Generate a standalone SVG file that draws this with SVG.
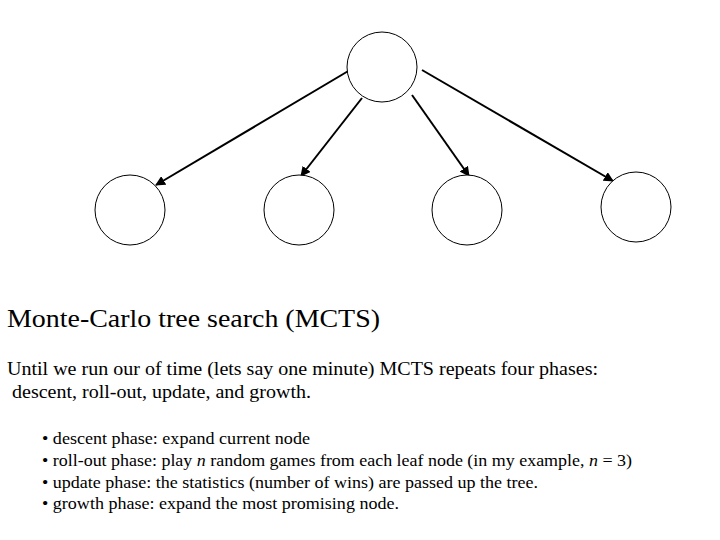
<svg xmlns="http://www.w3.org/2000/svg" width="720" height="540" viewBox="0 0 720 540">
<style>
.n{fill:#fff;stroke:#000;stroke-width:1}
.c{stroke:#000;stroke-width:2;fill:none;marker-end:url(#a)}
text{font-family:"Liberation Serif","Times New Roman","DejaVu Serif",serif;fill:#000}
.t{font-size:26px}.p{font-size:19px}.b{font-size:17px}
</style>
<defs><marker id="a" viewBox="0 0 10 10" refX="9" refY="5" markerWidth="5" markerHeight="5" orient="auto"><path d="M0,0L10,5L0,10z"/></marker></defs>
<rect width="720" height="540" fill="#fff"/>
<g id="connectors">
<line class="c" x1="350" y1="70" x2="156" y2="185"/>
<line class="c" x1="362" y1="98" x2="301" y2="176"/>
<line class="c" x1="412" y1="95" x2="469" y2="176"/>
<line class="c" x1="422" y1="70" x2="613" y2="181"/>
</g>
<g id="root"><ellipse class="n" cx="382" cy="67" rx="35" ry="35"/></g>
<g id="leaf1"><ellipse class="n" cx="130" cy="210" rx="35" ry="35"/></g>
<g id="leaf2"><ellipse class="n" cx="299" cy="210" rx="35" ry="35"/></g>
<g id="leaf3"><ellipse class="n" cx="467" cy="210" rx="35" ry="35"/></g>
<g id="leaf4"><ellipse class="n" cx="636" cy="207" rx="35" ry="35"/></g>
<text class="t" x="7" y="327" textLength="373" lengthAdjust="spacingAndGlyphs">Monte-Carlo tree search (MCTS)</text>
<text class="p" x="7" y="375" textLength="591" lengthAdjust="spacingAndGlyphs">Until we run our of time (lets say one minute) MCTS repeats four phases:</text>
<text class="p" x="12" y="398" textLength="299" lengthAdjust="spacingAndGlyphs">descent, roll-out, update, and growth.</text>
<text class="b" x="42" y="444" textLength="268" lengthAdjust="spacingAndGlyphs">• descent phase: expand current node</text>
<text class="b" x="42" y="466" textLength="590" lengthAdjust="spacingAndGlyphs">• roll-out phase: play <tspan font-style="italic">n</tspan> random games from each leaf node (in my example, <tspan font-style="italic">n</tspan> = 3)</text>
<text class="b" x="42" y="488" textLength="496" lengthAdjust="spacingAndGlyphs">• update phase: the statistics (number of wins) are passed up the tree.</text>
<text class="b" x="42" y="509" textLength="357" lengthAdjust="spacingAndGlyphs">• growth phase: expand the most promising node.</text>
</svg>
